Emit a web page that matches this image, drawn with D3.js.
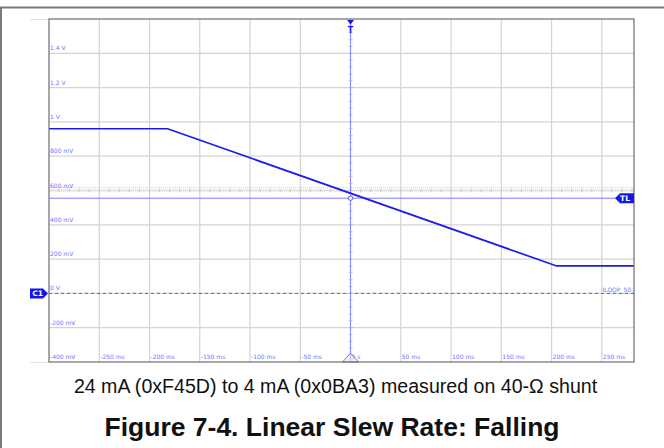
<!DOCTYPE html>
<html>
<head>
<meta charset="utf-8">
<script src="https://cdn.jsdelivr.net/npm/d3@7"></script>
<style>
  html, body { margin: 0; padding: 0; background: #fff; }
  svg { display: block; }
</style>
</head>
<body>
<svg id="scope" width="664" height="448"></svg>
<script>
// Horizontal graticule (ms) and vertical graticule (V)
const timeTicks = [-250, -200, -150, -100, -50, 0, 50, 100, 150, 200, 250];
const timeLabels = ["-250 ms", "-200 ms", "-150 ms", "-100 ms", "-50 ms", "0 s", "50 ms", "100 ms", "150 ms", "200 ms", "250 ms"];
const voltTicks = [1.4, 1.2, 1.0, 0.8, 0.6, 0.4, 0.2, 0, -0.2, -0.4];
const voltLabels = ["1.4 V", "1.2 V", "1 V", "800 mV", "600 mV", "400 mV", "200 mV", "0 V", "-200 mV", "-400 mV"];

// Channel 1 trace: loop voltage across the shunt (time in ms, level in V)
const traceTime = [-300, -182, 205, 282];
const traceVolt = [0.96, 0.96, 0.16, 0.16];

// Trigger level and reference level
const triggerLevel = 0.555;
const refLevel = 0.617;
const groundLevel = 0;

const caption = "24 mA (0xF45D) to 4 mA (0x0BA3) measured on 40-\u03A9 shunt";
const title = "Figure 7-4. Linear Slew Rate: Falling";

const svg = d3.select("#scope");
const L = 49, R = 634, T = 19, B = 362;
const x = d3.scaleLinear().domain([-300, 282]).range([L, R]);
const y = d3.scaleLinear().domain([-0.4, 1.6]).range([B, T]);

const gridCol = "#d4d4d4";
const labCol = "#7272ff";
const traceCol = "#1c1ce8";
const markCol = "#1515ee";

// page border
svg.append("line").attr("x1", 0).attr("x2", 664).attr("y1", 7.5).attr("y2", 7.5)
  .attr("stroke", "#7a7a7a").attr("stroke-width", 2);
svg.append("line").attr("x1", 1).attr("x2", 1).attr("y1", 7).attr("y2", 448)
  .attr("stroke", "#7a7a7a").attr("stroke-width", 2);

// short extensions left of the graticule
[T, B].forEach(v => svg.append("line").attr("x1", 30).attr("x2", L).attr("y1", v + 0.5).attr("y2", v + 0.5)
  .attr("stroke", "#e4e4e4").attr("stroke-width", 1));

const plot = svg.append("g");

// grid lines
plot.selectAll("line.vg").data(timeTicks.filter(t => t !== 0)).join("line")
  .attr("x1", d => x(d)).attr("x2", d => x(d)).attr("y1", T).attr("y2", B)
  .attr("stroke", gridCol).attr("stroke-width", 1.2);
plot.selectAll("line.hg").data(voltTicks.filter(v => v !== 0.6 && v !== -0.4)).join("line")
  .attr("x1", L).attr("x2", R).attr("y1", d => y(d)).attr("y2", d => y(d))
  .attr("stroke", gridCol).attr("stroke-width", 1.2);

// centre horizontal graticule with minor ticks
plot.append("line").attr("x1", L).attr("x2", R).attr("y1", y(0.6)).attr("y2", y(0.6))
  .attr("stroke", "#e2e2e2").attr("stroke-width", 2);
const minorT = d3.range(-290, 282, 10);
plot.selectAll("line.mt").data(minorT).join("line")
  .attr("x1", d => x(d)).attr("x2", d => x(d))
  .attr("y1", y(0.6) - 2).attr("y2", y(0.6) + 2)
  .attr("stroke", "#c4c4c4").attr("stroke-width", 0.8);

// reference level (dotted)
plot.append("line").attr("x1", L).attr("x2", R).attr("y1", y(refLevel)).attr("y2", y(refLevel))
  .attr("stroke", "#c9c9ff").attr("stroke-width", 1).attr("stroke-dasharray", "1,1");

// trigger level line
plot.append("line").attr("x1", L).attr("x2", R).attr("y1", y(triggerLevel)).attr("y2", y(triggerLevel))
  .attr("stroke", "#7b7bff").attr("stroke-width", 1);

// ground reference (dashed)
plot.append("line").attr("x1", L).attr("x2", R).attr("y1", y(groundLevel)).attr("y2", y(groundLevel))
  .attr("stroke", "#5a5aff").attr("stroke-width", 1).attr("stroke-dasharray", "3,3");

// trigger position (vertical) with minor ticks
plot.append("line").attr("x1", x(0)).attr("x2", x(0)).attr("y1", T).attr("y2", B)
  .attr("stroke", "#8080ff").attr("stroke-width", 1);
const minorV = d3.range(-0.36, 1.6, 0.04);
plot.selectAll("line.mv").data(minorV).join("line")
  .attr("x1", x(0) - 2).attr("x2", x(0) + 2)
  .attr("y1", d => y(d)).attr("y2", d => y(d))
  .attr("stroke", "#a8a8ff").attr("stroke-width", 0.8);

// axis labels inside the graticule
plot.selectAll("text.vl").data(voltTicks).join("text")
  .attr("x", L + 1).attr("y", d => y(d) - 3)
  .attr("font-family", "DejaVu Sans").attr("font-size", 6).attr("fill", labCol)
  .text((d, i) => voltLabels[i]);
plot.selectAll("text.tl").data(timeTicks).join("text")
  .attr("x", d => x(d) + 1).attr("y", B - 3)
  .attr("font-family", "DejaVu Sans").attr("font-size", 6).attr("fill", labCol)
  .text((d, i) => timeLabels[i]);

// channel label on the ground line
plot.append("text").attr("x", R - 1).attr("y", y(groundLevel) - 1.5)
  .attr("text-anchor", "end").attr("font-family", "DejaVu Sans").attr("font-size", 6)
  .attr("fill", labCol).text("ILOOP_50.");

// trace
const line = d3.line().x(d => x(d[0])).y(d => y(d[1]));
plot.append("path").datum(traceTime.map((t, i) => [t, traceVolt[i]]))
  .attr("d", line).attr("fill", "none").attr("stroke", traceCol).attr("stroke-width", 1.7);

// trigger crossing marker
plot.append("circle").attr("cx", x(0)).attr("cy", y(triggerLevel)).attr("r", 2.2)
  .attr("fill", "#fff").attr("stroke", "#5a5aff").attr("stroke-width", 1);

// horizontal position marker at bottom
const xb = x(0);
plot.append("path").attr("d", `M${xb - 8},${B} L${xb},${B - 9} L${xb + 8},${B} Z`)
  .attr("fill", "#e8e8e8").attr("fill-opacity", 0.6).attr("stroke", "#8a8a8a").attr("stroke-width", 1);

// frame
svg.append("rect").attr("x", L).attr("y", T).attr("width", R - L).attr("height", B - T)
  .attr("fill", "none").attr("stroke", "#6d6d6d").attr("stroke-width", 1.2);

// trigger marker at top
svg.append("path").attr("d", `M${xb - 3.5},${T + 1} L${xb + 3.5},${T + 1} L${xb},${T + 5.5} Z`).attr("fill", markCol);
svg.append("text").attr("x", xb).attr("y", T + 14).attr("text-anchor", "middle")
  .attr("font-family", "DejaVu Sans").attr("font-size", 8).attr("font-weight", "bold")
  .attr("fill", markCol).text("T");

// trigger level tag
const ty = y(triggerLevel);
svg.append("path").attr("d", `M${R},${ty - 5} L${R - 14},${ty - 5} L${R - 19},${ty} L${R - 14},${ty + 5} L${R},${ty + 5} Z`)
  .attr("fill", markCol);
svg.append("text").attr("x", R - 9).attr("y", ty + 3).attr("text-anchor", "middle")
  .attr("font-family", "DejaVu Sans").attr("font-size", 7.5).attr("font-weight", "bold")
  .attr("fill", "#fff").text("TL");

// channel 1 tag
const gy = y(groundLevel);
svg.append("path").attr("d", `M30,${gy - 5} L43,${gy - 5} L48,${gy} L43,${gy + 5} L30,${gy + 5} Z`)
  .attr("fill", markCol);
svg.append("text").attr("x", 37.5).attr("y", gy + 3).attr("text-anchor", "middle")
  .attr("font-family", "DejaVu Sans").attr("font-size", 7.5).attr("font-weight", "bold")
  .attr("fill", "#fff").text("C1");

// caption and figure title
svg.append("text").attr("x", 335.5).attr("y", 393).attr("text-anchor", "middle")
  .attr("font-family", "Liberation Sans, Arial, sans-serif").attr("font-size", 19.6)
  .attr("fill", "#111").text(caption);
svg.append("text").attr("x", 332).attr("y", 436).attr("text-anchor", "middle")
  .attr("font-family", "Liberation Sans, Arial, sans-serif").attr("font-size", 26.5).attr("font-weight", "bold")
  .attr("fill", "#111").text(title);
</script>
</body>
</html>
